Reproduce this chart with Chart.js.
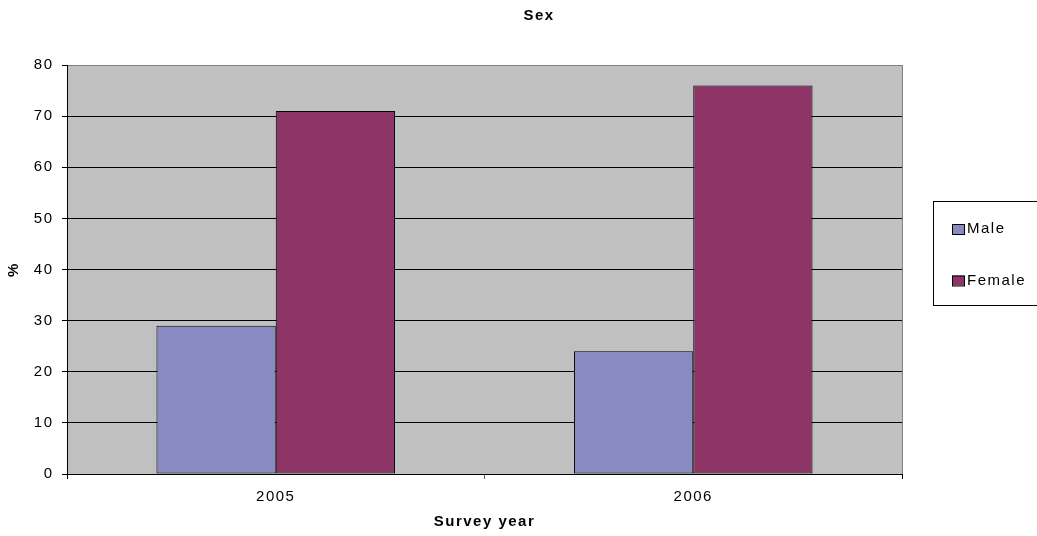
<!DOCTYPE html>
<html>
<head>
<meta charset="utf-8">
<title>Sex</title>
<script src="https://cdn.jsdelivr.net/npm/chart.js@4/dist/chart.umd.min.js"></script>
<style>
  html, body { margin: 0; padding: 0; background: #ffffff; }
  #wrap { position: relative; width: 1037px; height: 536px; }
</style>
</head>
<body>
<div id="wrap"><canvas id="chart" width="1037" height="536"></canvas></div>
<script>
// Survey categories and shares (%)
const surveyYears = ['2005', '2006'];
const maleShare = [29, 24];
const femaleShare = [71, 76];
const seriesNames = ['Male', 'Female'];
const yTicks = [0, 10, 20, 30, 40, 50, 60, 70, 80];

const chartTitle = 'Sex';
const xTitle = 'Survey year';
const yTitle = '%';

const FONT = "'Liberation Sans', Arial, sans-serif";
const SPACING = '1.5px';
const SIZE = 15;

Chart.defaults.font.family = FONT;
Chart.defaults.font.size = SIZE;
Chart.defaults.color = '#000';

// Wide tracking for all canvas text
const spacingPlugin = {
  id: 'spacing',
  beforeUpdate(chart) { chart.ctx.letterSpacing = SPACING; },
  beforeDraw(chart) { chart.ctx.letterSpacing = SPACING; }
};

// Grey plot background with a thin grey frame
const plotBackground = {
  id: 'plotBackground',
  beforeDraw(chart) {
    const { ctx, chartArea: a } = chart;
    ctx.save();
    ctx.fillStyle = '#c0c0c0';
    ctx.fillRect(a.left, a.top, a.right - a.left, a.bottom - a.top);
    ctx.strokeStyle = '#808080';
    ctx.lineWidth = 1;
    ctx.strokeRect(Math.round(a.left) + 0.5, Math.round(a.top) + 0.5,
                   Math.round(a.right - a.left), Math.round(a.bottom - a.top));
    ctx.restore();
  }
};

// Title and boxed legend on the right
const decorations = {
  id: 'decorations',
  afterDraw(chart) {
    const { ctx } = chart;
    ctx.save();
    ctx.letterSpacing = SPACING;
    ctx.fillStyle = '#000';
    ctx.textAlign = 'center';
    ctx.textBaseline = 'middle';
    ctx.font = "bold " + SIZE + "px " + FONT;
    ctx.fillText(chartTitle, 539, 15.5);

    // legend frame
    ctx.strokeStyle = '#000';
    ctx.lineWidth = 1;
    ctx.strokeRect(933.5, 201.5, 120, 104);

    ctx.font = SIZE + "px " + FONT;
    ctx.textAlign = 'left';
    const rows = [229, 280.5];
    chart.data.datasets.forEach((ds, i) => {
      const y = rows[i];
      ctx.fillStyle = ds.backgroundColor;
      ctx.fillRect(952, y - 5, 12, 10);
      ctx.strokeStyle = '#000';
      ctx.strokeRect(952.5, y - 4.5, 12, 10);
      ctx.fillStyle = '#000';
      ctx.fillText(ds.label, 967, y);
    });
    ctx.restore();
  }
};

new Chart(document.getElementById('chart'), {
  type: 'bar',
  data: {
    labels: surveyYears,
    datasets: [
      { label: seriesNames[0], data: maleShare, backgroundColor: '#8a8ac3' },
      { label: seriesNames[1], data: femaleShare, backgroundColor: '#8e3567' }
    ]
  },
  options: {
    responsive: false,
    animation: false,
    events: [],
    layout: { padding: { top: 65, right: 135, bottom: 1, left: 0 } },
    datasets: {
      bar: {
        categoryPercentage: 2 / 3.5,
        barPercentage: 1,
        borderColor: '#000',
        borderWidth: 1,
        borderSkipped: false
      }
    },
    plugins: {
      legend: { display: false },
      title: { display: false },
      tooltip: { enabled: false }
    },
    scales: {
      x: {
        offset: true,
        grid: {
          display: true,
          offset: true,
          drawOnChartArea: false,
          drawTicks: true,
          tickLength: 5,
          color: ctx => (ctx.index === 1 ? '#606060' : '#000')
        },
        border: { display: true, color: '#000', width: 1 },
        ticks: { padding: 9, font: { size: SIZE }, color: '#000' },
        title: {
          display: true,
          text: xTitle,
          font: { size: SIZE, weight: 'bold' },
          padding: { top: 4, bottom: 4 },
          color: '#000'
        },
        afterFit(scale) { scale.height = 61; }
      },
      y: {
        min: 0,
        max: 80,
        afterBuildTicks(scale) { scale.ticks = yTicks.map(v => ({ value: v })); },
        grid: {
          color: ctx => (ctx.tick && ctx.tick.value === 80 ? '#808080' : '#000'),
          tickColor: '#000',
          tickLength: 5,
          lineWidth: 1
        },
        border: { display: true, color: '#000', width: 1 },
        ticks: { padding: 8.5, font: { size: SIZE }, color: '#000' },
        title: {
          display: true,
          text: yTitle,
          font: { size: SIZE, weight: 'bold' },
          padding: { top: 5, bottom: 4 },
          color: '#000'
        },
        afterFit(scale) { scale.width = 67; }
      }
    }
  },
  plugins: [spacingPlugin, plotBackground, decorations]
});
</script>
</body>
</html>
